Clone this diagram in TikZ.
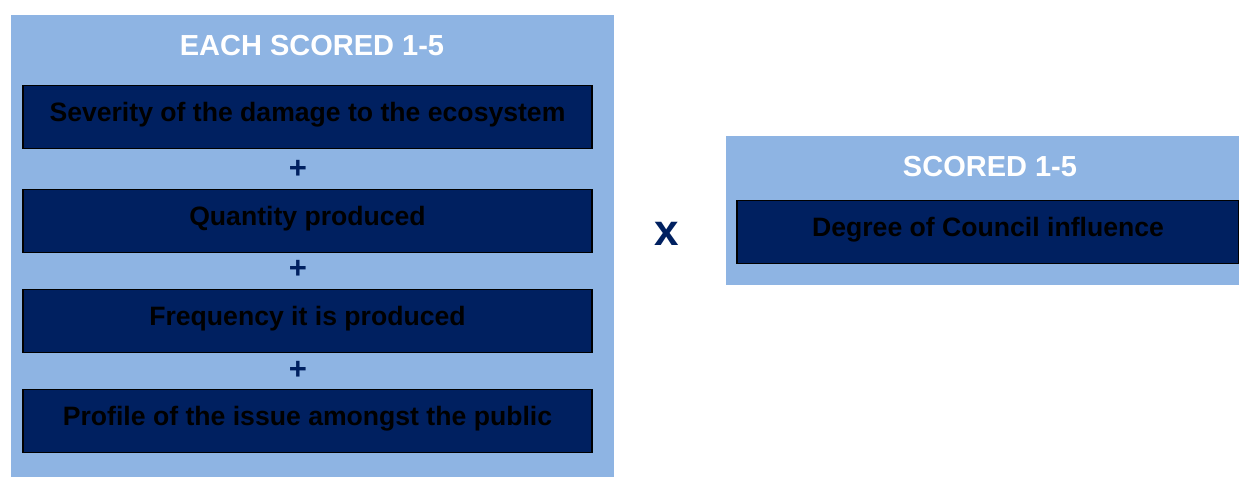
\documentclass[tikz,border=0pt]{standalone}
\usepackage{fontspec}
\setmainfont{Liberation Sans}
\definecolor{panelblue}{HTML}{8EB4E3}
\definecolor{navy}{HTML}{002060}
\begin{document}
\begin{tikzpicture}[x=1pt,y=-1pt,
  panel/.style={fill=panelblue, draw=none, inner sep=0pt},
  factor/.style={fill=navy, draw=black, line width=1.5pt, inner sep=0pt,
    font=\bfseries\fontsize{26.6}{26.6}\selectfont, text=black,
    text height=21pt, text depth=11.5pt},
  heading/.style={font=\bfseries\fontsize{29}{29}\selectfont, text=white, inner sep=0pt},
  op/.style={font=\bfseries\fontsize{31}{31}\selectfont, text=navy, inner sep=0pt}]
  \useasboundingbox (0,0) rectangle (1239,477);

  % left panel: four factors summed
  \node[panel, minimum width=603pt, minimum height=462pt] (lpanel) at (312.5,246) {};
  \node[heading] (ltitle) at (312,46) {EACH SCORED 1-5};
  \node[factor, minimum width=569pt, minimum height=63pt] (f1) at (307.5,117) {Severity of the damage to the ecosystem};
  \node[op] (p1) at (298,169) {+};
  \node[factor, minimum width=569pt, minimum height=63pt] (f2) at (307.5,221) {Quantity produced};
  \node[op] (p2) at (298,269) {+};
  \node[factor, minimum width=569pt, minimum height=63pt] (f3) at (307.5,321) {Frequency it is produced};
  \node[op] (p3) at (298,370) {+};
  \node[factor, minimum width=569pt, minimum height=63pt] (f4) at (307.5,421) {Profile of the issue amongst the public};

  % multiplication sign
  \node[op, font=\bfseries\fontsize{44}{44}\selectfont] (times) at (667,234) {x};

  % right panel: council influence
  \node[panel, minimum width=513pt, minimum height=149pt] (rpanel) at (982.5,210.5) {};
  \node[heading] (rtitle) at (990,167) {SCORED 1-5};
  \node[factor, minimum width=502pt, minimum height=63pt] (g1) at (988,232) {Degree of Council influence};
\end{tikzpicture}
\end{document}
